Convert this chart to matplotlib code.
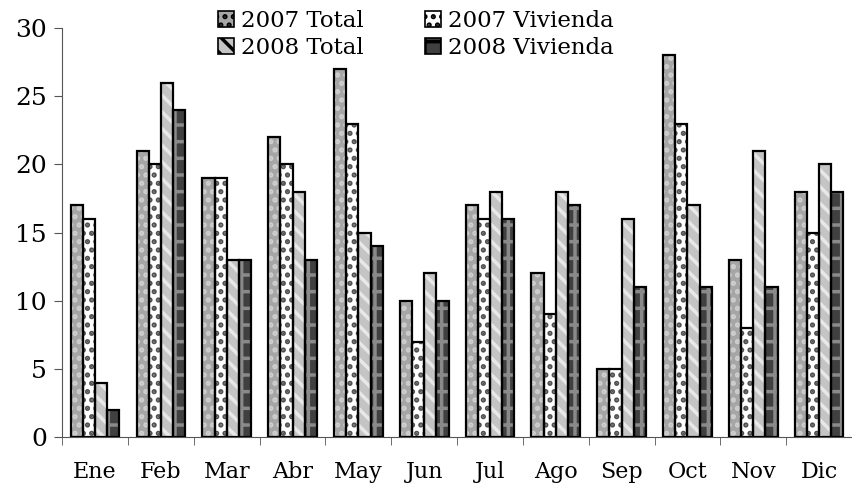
import matplotlib
matplotlib.use("Agg")
import matplotlib.pyplot as plt
import numpy as np
from matplotlib.patches import Patch

months = ["Ene", "Feb", "Mar", "Abr", "May", "Jun", "Jul", "Ago", "Sep", "Oct", "Nov", "Dic"]
total_2007 = [17, 21, 19, 22, 27, 10, 17, 12, 5, 28, 13, 18]
vivienda_2007 = [16, 20, 19, 20, 23, 7, 16, 9, 5, 23, 8, 15]
total_2008 = [4, 26, 13, 18, 15, 12, 18, 18, 16, 17, 21, 20]
vivienda_2008 = [2, 24, 13, 13, 14, 10, 16, 17, 11, 11, 11, 18]
series_names = ["2007 Total", "2007 Vivienda", "2008 Total", "2008 Vivienda"]

plt.rcParams['font.family'] = ['DejaVu Serif']
plt.rcParams['hatch.linewidth'] = 2.5

fig = plt.figure(figsize=(8.52, 4.84), dpi=100)
ax = fig.add_axes([0.073, 0.097, 0.927, 0.845])

styles = [
    dict(face="#a6a6a6", hatch="..", hc="#cfcfcf"),
    dict(face="#ffffff", hatch="..", hc="#505050"),
    dict(face="#c4c4c4", hatch="\\\\", hc="#e8e8e8"),
    dict(face="#404040", hatch="+", hc="#8a8a8a"),
]
data = [total_2007, vivienda_2007, total_2008, vivienda_2008]
x = np.arange(len(months))
w = 0.185
offs = (np.arange(4) - 1.5) * w
handles = []
for d, st, off, name in zip(data, styles, offs, series_names):
    ax.bar(x + off, d, w, color=st["face"], hatch=st["hatch"], edgecolor=st["hc"], linewidth=0, zorder=2)
    ax.bar(x + off, d, w, fill=False, edgecolor="black", linewidth=1.6, zorder=3)
    handles.append(Patch(facecolor=st["face"], hatch=st["hatch"], edgecolor="black", linewidth=1.2, label=name))

ax.set_xlim(-0.5, 11.5)
ax.set_ylim(0, 30)
ax.set_yticks(range(0, 31, 5))
ax.set_xticks(x)
ax.set_xticklabels(months)
ax.set_xticks(np.arange(-0.5, 12, 1), minor=True)
ax.tick_params(axis="x", which="major", length=0, pad=17, labelsize=16)
ax.tick_params(axis="x", which="minor", length=6, direction="out", color="#555555")
ax.tick_params(axis="y", length=6, direction="out", labelsize=18, color="#555555", pad=5)
for s in ["top", "right"]:
    ax.spines[s].set_visible(False)
ax.spines["left"].set_color("#555555")
ax.spines["bottom"].set_color("#555555")

order = [0, 2, 1, 3]
leg = fig.legend(handles=[handles[i] for i in order], ncol=2, loc="upper left",
                 bbox_to_anchor=(218 / 852, 1 - 10 / 484), bbox_transform=fig.transFigure,
                 frameon=False, fontsize=16.5, handlelength=0.7, handleheight=0.7,
                 handletextpad=0.3, columnspacing=2.7, labelspacing=0.2, borderpad=0,
                 borderaxespad=0)

fig.savefig("out.png", dpi=100)
